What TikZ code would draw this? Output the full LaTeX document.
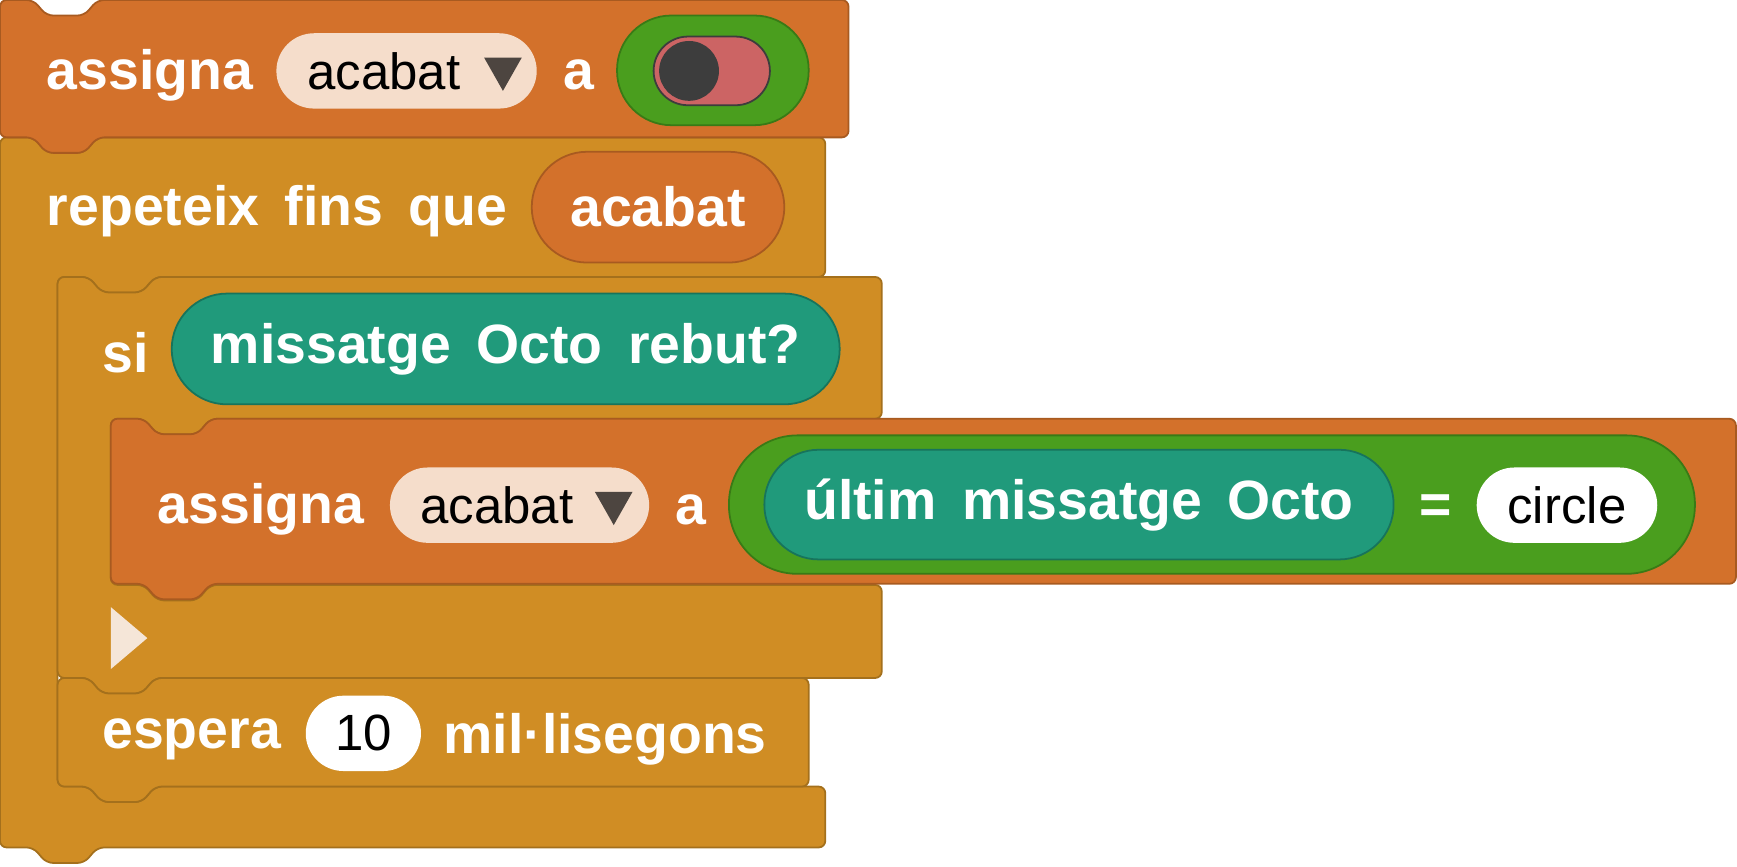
\documentclass[tikz,border=0pt]{standalone}
\usepackage{fontspec}
\setmainfont{Liberation Sans}
\definecolor{orangeblk}{HTML}{D3712B}
\definecolor{orangeedge}{HTML}{A85A20}
\definecolor{goldblk}{HTML}{D08D24}
\definecolor{goldedge}{HTML}{A4701C}
\definecolor{greenblk}{HTML}{4A9E1E}
\definecolor{greenedge}{HTML}{397A16}
\definecolor{tealblk}{HTML}{209A7B}
\definecolor{tealedge}{HTML}{17745C}
\definecolor{dropfill}{HTML}{F5DDCB}
\definecolor{togglered}{HTML}{CC6464}
\definecolor{knob}{HTML}{3D3D3D}
\definecolor{droparrow}{HTML}{4D4540}
\definecolor{playfill}{HTML}{F5E6D8}
\newcommand\wfont{\fontsize{25}{30}\bfseries\selectfont\spaceskip=0.46em\relax}
\newcommand\bfont{\fontsize{23}{28}\selectfont}
\tikzset{
  blk/.style={draw=#1edge, fill=#1blk, line width=0.8pt, rounded corners=3pt},
  word/.style={anchor=west, inner sep=0pt, text=white, font=\wfont, yshift=-2.5pt},
  pill/.style 2 args={draw=#1edge, fill=#1blk, line width=0.8pt, rounded corners=#2, inner sep=0pt},
  dropbox/.style={fill=dropfill, rounded corners=17pt, minimum height=34pt, inner sep=0pt},
  whitebox/.style={fill=white, rounded corners=17pt, minimum height=34pt, inner sep=0pt},
}
\begin{document}
\begin{tikzpicture}[x=0.5pt, y=-0.5pt]
    \useasboundingbox (0,0) rectangle (1568,782);%

    % repeat block
    \draw[blk=gold] (0,124) -- (30,124) -- (42,138) -- (76,138) -- (88,124) -- (745,124) -- (745,250)
      -- (140,250) -- (128,264) -- (92,264) -- (80,250) -- (52,250) -- (52,710)
      -- (80,710) -- (92,724) -- (128,724) -- (140,710) -- (745,710) -- (745,765)
      -- (88,765) -- (76,779) -- (42,779) -- (30,765) -- (0,765) -- cycle;%
    % if block
    \draw[blk=gold] (52,250) -- (80,250) -- (92,264) -- (128,264) -- (140,250) -- (796,250) -- (796,378)
      -- (190,378) -- (178,392) -- (142,392) -- (130,378) -- (100,378) -- (100,528)
      -- (130,528) -- (142,542) -- (178,542) -- (190,528) -- (796,528) -- (796,612)
      -- (140,612) -- (128,626) -- (92,626) -- (80,612) -- (52,612) -- cycle;%
    % inner set block
    \draw[blk=orange] (100,378) -- (130,378) -- (142,392) -- (178,392) -- (190,378) -- (1567,378) -- (1567,527)
      -- (190,527) -- (178,541) -- (142,541) -- (130,527) -- (100,527) -- cycle;%
    % wait block
    \draw[blk=gold] (52,612) -- (80,612) -- (92,626) -- (128,626) -- (140,612) -- (730,612) -- (730,710)
      -- (140,710) -- (128,724) -- (92,724) -- (80,710) -- (52,710) -- cycle;%
    % first set block
    \draw[blk=orange] (0,0) -- (30,0) -- (42,14) -- (76,14) -- (88,0) -- (766,0) -- (766,124)
      -- (88,124) -- (76,138) -- (42,138) -- (30,124) -- (0,124) -- cycle;%

    % first row
    \node[word] (SetA) at (42,63) {assigna};%
    \node[dropbox, minimum width=117.5pt] (VarA) at (367,64) {};%
    \node[anchor=west, inner sep=0pt, font=\bfont] (VarAText) at (277,64) {acabat};%
    \fill[droparrow] (437,52) -- (471,52) -- (454,82) -- cycle;%
    \node[word] (ToA) at (508,63) {a};%
    \node[pill={green}{24.5pt}, minimum width=86.5pt, minimum height=49.5pt] (BoolA) at (643.5,63.5) {};%
    \node[draw=knob, fill=togglered, line width=0.8pt, rounded corners=15.5pt, minimum width=52.5pt, minimum height=31pt, inner sep=0pt] (Toggle) at (642.5,64) {};%
    \node[circle, fill=knob, minimum size=27pt, inner sep=0pt] (Knob) at (622,64) {};%

    % repeat row
    \node[word] (Repeat) at (42,186) {repeteix fins que};%
    \node[pill={orange}{25pt}, minimum width=114pt, minimum height=50pt, text=white, font=\wfont] (Until) at (594,187) {acabat};%

    % if row
    \node[word] (If) at (92,313) {si};%
    \node[pill={teal}{25pt}, minimum width=301.5pt, minimum height=50pt, text=white, font=\wfont] (Received) at (456.5,315) {missatge Octo rebut?};%

    % inner set row
    \node[word] (SetB) at (142,455) {assigna};%
    \node[dropbox, minimum width=117pt] (VarB) at (469,456) {};%
    \node[anchor=west, inner sep=0pt, font=\bfont] (VarBText) at (379,456) {acabat};%
    \fill[droparrow] (537,444) -- (571,444) -- (554,474) -- cycle;%
    \node[word] (ToB) at (609,455) {a};%
    \node[pill={green}{31pt}, minimum width=436pt, minimum height=62.5pt] (Compare) at (1094,455.5) {};%
    \node[pill={teal}{24.5pt}, minimum width=284pt, minimum height=49.5pt, text=white, font=\wfont] (Last) at (974,455.5) {últim missatge Octo};%
    \node[word] (Eq) at (1281,455) {=};%
    \node[whitebox, minimum width=81.5pt, font=\bfont] (Circle) at (1414.5,456) {circle};%

    % else arrow
    \fill[playfill] (100,548) -- (100,604) -- (133,576) -- cycle;%

    % wait row
    \node[word] (Wait) at (92,662) {espera};%
    \node[whitebox, minimum width=52pt, font=\bfont] (Ms) at (328,662) {10};%
    \node[word] (Unit) at (400,662) {mil·lisegons};%
  \end{tikzpicture}
\end{document}
